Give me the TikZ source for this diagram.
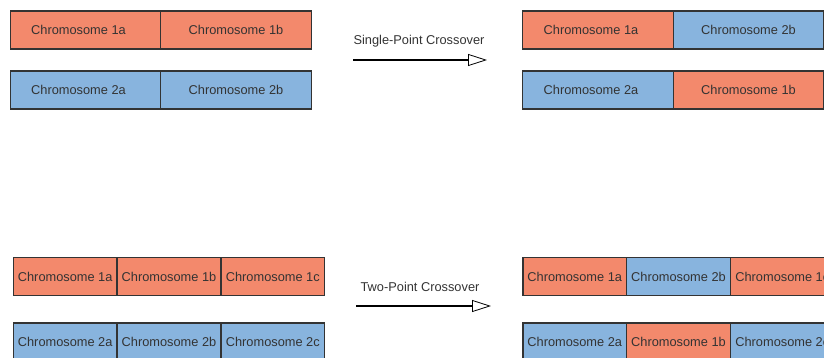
\documentclass[tikz,border=0pt]{standalone}
\usepackage{fontspec}
\setmainfont{Liberation Sans}
\usetikzlibrary{positioning,arrows.meta}

\definecolor{geneA}{RGB}{243,137,108}
\definecolor{geneB}{RGB}{136,180,222}
\definecolor{edgegray}{RGB}{51,51,51}

\begin{document}
\begin{tikzpicture}[x=1pt, y=-1pt,
    font=\fontsize{12.8}{14}\selectfont,
    gene/.style={draw=edgegray, line width=1.4pt, text=edgegray, inner sep=0pt, outer sep=0pt,
                 minimum height=38pt, minimum width=150.5pt},
    gene3/.style={gene, minimum width=103.8pt},
    partA/.style={gene, fill=geneA},
    partB/.style={gene, fill=geneB},
    leftish/.style={execute at begin node=\hspace*{-14pt}},
    xover/.style={line width=1.8pt, black,
                  -{Triangle[open, length=19pt, width=12pt, line width=0.8pt]}},
    xlabel/.style={text=edgegray, inner sep=0pt}]
    \clip (0,0) rectangle (824,358);

    % Parents, single point
    \node[partA, leftish] (c1a) at (85.5,30) {Chromosome 1a};
    \node[partA, right=0pt of c1a] (c1b) {Chromosome 1b};
    \node[partB, leftish] (c2a) at (85.5,90) {Chromosome 2a};
    \node[partB, right=0pt of c2a] (c2b) {Chromosome 2b};

    % Single-point crossover arrow
    \coordinate (s1) at (353,60);
    \coordinate (e1) at (487,60);
    \draw[xover] (s1) -- (e1);
    \node[xlabel] (l1) at (419,41) {Single-Point Crossover};

    % Offspring, single point
    \node[partA, leftish] (o1a) at (598,30) {Chromosome 1a};
    \node[partB, right=0pt of o1a] (o2b) {Chromosome 2b};
    \node[partB, leftish] (o2a) at (598,90) {Chromosome 2a};
    \node[partA, right=0pt of o2a] (o1b) {Chromosome 1b};

    % Parents, two point
    \node[partA, gene3] (d1a) at (65.2,276.5) {Chromosome 1a};
    \node[partA, gene3, right=0pt of d1a] (d1b) {Chromosome 1b};
    \node[partA, gene3, right=0pt of d1b] (d1c) {Chromosome 1c};
    \node[partB, gene3] (d2a) at (65.2,342) {Chromosome 2a};
    \node[partB, gene3, right=0pt of d2a] (d2b) {Chromosome 2b};
    \node[partB, gene3, right=0pt of d2b] (d2c) {Chromosome 2c};

    % Two-point crossover arrow
    \coordinate (s2) at (356,306);
    \coordinate (e2) at (491,306);
    \draw[xover] (s2) -- (e2);
    \node[xlabel] (l2) at (420,287) {Two-Point Crossover};

    % Offspring, two point
    \node[partA, gene3] (p1a) at (574.7,276.5) {Chromosome 1a};
    \node[partB, gene3, right=0pt of p1a] (p2b) {Chromosome 2b};
    \node[partA, gene3, right=0pt of p2b] (p1c) {Chromosome 1c};
    \node[partB, gene3] (p2a) at (574.7,342) {Chromosome 2a};
    \node[partA, gene3, right=0pt of p2a] (p1b) {Chromosome 1b};
    \node[partB, gene3, right=0pt of p1b] (p2c) {Chromosome 2c};

\end{tikzpicture}
\end{document}
